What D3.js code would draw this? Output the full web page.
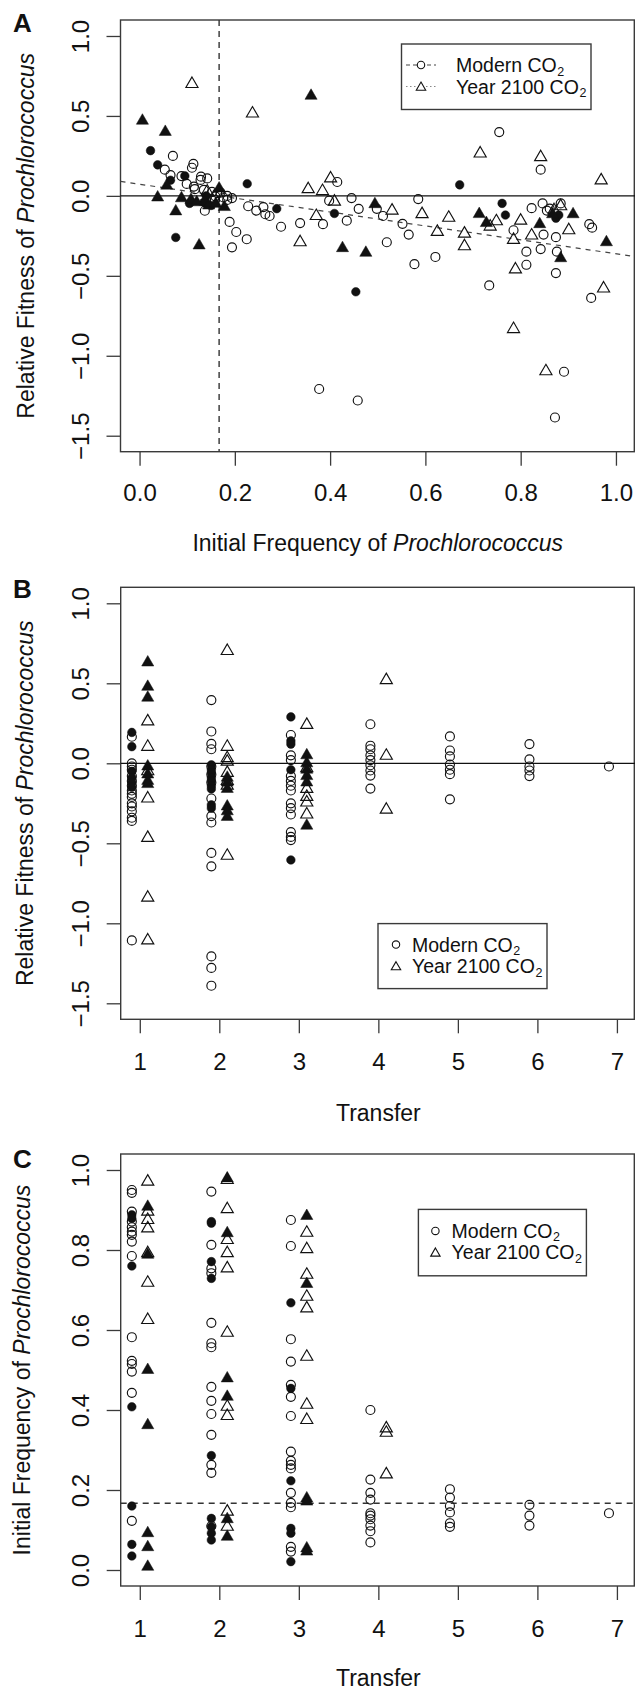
<!DOCTYPE html>
<html><head><meta charset="utf-8">
<script src="https://cdn.jsdelivr.net/npm/d3@7"></script>
<style>html,body{margin:0;padding:0;background:#fff;} svg{display:block;}</style>
</head><body>
<script>
// ---------------- DATA ----------------
// Panel A: [initial frequency, relative fitness]
const aModernOpen = [[0.07,0.25],[0.053,0.164],[0.065,0.13],[0.088,0.124],[0.113,0.2],[0.11,0.176],[0.129,0.12],[0.142,0.109],[0.099,0.075],[0.116,0.042],[0.137,-0.093],[0.159,-0.003],[0.184,-0.025],[0.194,-0.014],[0.189,-0.163],[0.203,-0.226],[0.194,-0.322],[0.225,-0.271],[0.228,-0.065],[0.245,-0.092],[0.26,-0.07],[0.264,-0.115],[0.273,-0.126],[0.297,-0.193],[0.337,-0.17],[0.385,-0.177],[0.415,0.087],[0.398,-0.03],[0.435,-0.155],[0.445,-0.014],[0.46,-0.081],[0.498,-0.081],[0.511,-0.126],[0.519,-0.29],[0.552,-0.175],[0.565,-0.242],[0.585,-0.02],[0.577,-0.427],[0.621,-0.382],[0.734,-0.56],[0.755,0.399],[0.785,-0.215],[0.812,-0.431],[0.812,-0.349],[0.823,-0.077],[0.842,0.164],[0.846,-0.047],[0.848,-0.242],[0.842,-0.333],[0.855,-0.092],[0.874,-0.258],[0.876,-0.349],[0.874,-0.483],[0.884,-0.047],[0.861,-0.08],[0.944,-0.177],[0.95,-0.199],[0.948,-0.638],[0.891,-1.1],[0.872,-1.386],[0.377,-1.208],[0.458,-1.28],[0.128,0.10],[0.114,0.058],[0.135,0.038],[0.163,0.017],[0.152,0.025],[0.184,0.0],[0.158,-0.027],[0.176,-0.01],[0.17,0.02]];
const aModernFilled = [[0.023,0.283],[0.038,0.194],[0.065,0.098],[0.095,0.125],[0.076,-0.26],[0.105,-0.047],[0.226,0.076],[0.288,-0.08],[0.409,-0.11],[0.454,-0.60],[0.672,0.069],[0.761,-0.047],[0.768,-0.12],[0.874,-0.14],[0.88,-0.12],[0.135,-0.04],[0.15,-0.06],[0.14,0.0]];
const aYearOpen = [[0.11,0.70],[0.237,0.515],[0.354,0.042],[0.384,0.03],[0.401,0.109],[0.409,-0.036],[0.371,-0.126],[0.337,-0.29],[0.53,-0.092],[0.593,-0.114],[0.625,-0.225],[0.649,-0.137],[0.682,-0.236],[0.682,-0.315],[0.715,0.265],[0.736,-0.192],[0.749,-0.159],[0.785,-0.275],[0.8,-0.155],[0.789,-0.46],[0.785,-0.833],[0.842,0.242],[0.823,-0.248],[0.853,-1.097],[0.884,-0.065],[0.901,-0.215],[0.969,0.097],[0.974,-0.579],[0.87,-0.09],[0.142,0.027]];
const aYearFilled = [[0.006,0.47],[0.054,0.40],[0.038,-0.01],[0.057,0.064],[0.076,-0.097],[0.088,-0.015],[0.125,-0.31],[0.108,-0.025],[0.137,-0.036],[0.167,0.046],[0.178,-0.07],[0.36,0.626],[0.426,-0.327],[0.475,-0.356],[0.494,-0.052],[0.713,-0.114],[0.728,-0.17],[0.84,-0.177],[0.867,-0.115],[0.884,-0.39],[0.91,-0.115],[0.98,-0.29],[0.145,-0.06],[0.16,-0.05],[0.12,-0.04]];
// Fitted line (Modern): [intercept, slope]
const aFitModern = [0.073, -0.435];
const aThreshold = 0.167;

// Panel B: [transfer, relative fitness]
const bModernOpen = [[1,0.166],[1,0.0],[1,-0.02],[1,-0.04],[1,-0.08],[1,-0.11],[1,-0.14],[1,-0.17],[1,-0.19],[1,-0.21],[1,-0.25],[1,-0.27],[1,-0.30],[1,-0.34],[1,-0.36],[1,-1.107],
 [2,0.395],[2,0.199],[2,0.121],[2,0.088],[2,-0.02],[2,-0.07],[2,-0.12],[2,-0.22],[2,-0.33],[2,-0.37],[2,-0.56],[2,-0.644],[2,-1.207],[2,-1.279],[2,-1.39],
 [3,0.177],[3,0.05],[3,0.02],[3,-0.08],[3,-0.11],[3,-0.14],[3,-0.17],[3,-0.25],[3,-0.28],[3,-0.32],[3,-0.43],[3,-0.46],[3,-0.48],
 [4,0.244],[4,0.11],[4,0.088],[4,0.05],[4,0.02],[4,-0.012],[4,-0.045],[4,-0.077],[4,-0.158],
 [5,0.168],[5,0.08],[5,0.043],[5,-0.008],[5,-0.04],[5,-0.068],[5,-0.225],
 [6,0.12],[6,0.025],[6,-0.02],[6,-0.045],[6,-0.08],
 [7,-0.02]];
const bModernFilled = [[1,0.193],[1,0.104],[1,-0.05],[1,-0.09],[1,-0.12],[1,-0.15],
 [2,-0.01],[2,-0.04],[2,-0.06],[2,-0.09],[2,-0.11],[2,-0.14],[2,-0.16],[2,-0.26],[2,-0.28],
 [3,0.29],[3,0.14],[3,0.12],[3,-0.04],[3,-0.604]];
const bYearOpen = [[1,0.262],[1,0.103],[1,-0.05],[1,-0.22],[1,-0.466],[1,-0.84],[1,-1.107],
 [2,0.702],[2,0.103],[2,0.032],[2,0.01],[2,-0.06],[2,-0.11],[2,-0.14],[2,-0.578],
 [3,0.24],[3,-0.03],[3,-0.16],[3,-0.21],[3,-0.245],[3,-0.32],
 [4,0.52],[4,0.047],[4,-0.29]];
const bYearFilled = [[1,0.63],[1,0.478],[1,0.41],[1,-0.02],[1,-0.07],[1,-0.11],[1,-0.13],
 [2,-0.09],[2,-0.12],[2,-0.16],[2,-0.27],[2,-0.30],[2,-0.335],
 [3,0.05],[3,0.0],[3,-0.04],[3,-0.08],[3,-0.12],[3,-0.39]];

// Panel C: [transfer, initial frequency]
const cModernOpen = [[1,0.95],[1,0.943],[1,0.896],[1,0.871],[1,0.857],[1,0.846],[1,0.838],[1,0.821],[1,0.785],[1,0.582],[1,0.523],[1,0.515],[1,0.496],[1,0.443],[1,0.123],
 [2,0.946],[2,0.813],[2,0.754],[2,0.742],[2,0.618],[2,0.567],[2,0.557],[2,0.458],[2,0.423],[2,0.39],[2,0.338],[2,0.263],[2,0.243],[2,0.11],
 [3,0.875],[3,0.81],[3,0.577],[3,0.521],[3,0.463],[3,0.433],[3,0.385],[3,0.296],[3,0.273],[3,0.263],[3,0.254],[3,0.193],[3,0.168],[3,0.157],[3,0.058],[3,0.046],
 [4,0.4],[4,0.226],[4,0.193],[4,0.176],[4,0.142],[4,0.136],[4,0.127],[4,0.111],[4,0.097],[4,0.069],
 [5,0.202],[5,0.181],[5,0.16],[5,0.144],[5,0.117],[5,0.108],
 [6,0.163],[6,0.136],[6,0.111],
 [7,0.142]];
const cModernFilled = [[1,0.888],[1,0.879],[1,0.76],[1,0.408],[1,0.16],[1,0.064],[1,0.035],
 [2,0.871],[2,0.867],[2,0.771],[2,0.729],[2,0.286],[2,0.129],[2,0.108],[2,0.092],[2,0.075],
 [3,0.668],[3,0.454],[3,0.223],[3,0.104],[3,0.092],[3,0.021]];
const cYearOpen = [[1,0.971],[1,0.896],[1,0.875],[1,0.854],[1,0.792],[1,0.718],[1,0.625],
 [2,0.975],[2,0.902],[2,0.825],[2,0.792],[2,0.754],[2,0.593],[2,0.408],[2,0.385],[2,0.146],[2,0.108],
 [3,0.843],[3,0.802],[3,0.738],[3,0.683],[3,0.654],[3,0.533],[3,0.413],[3,0.375],
 [4,0.354],[4,0.343],[4,0.239]];
const cYearFilled = [[1,0.908],[1,0.788],[1,0.50],[1,0.362],[1,0.092],[1,0.057],[1,0.008],
 [2,0.979],[2,0.842],[2,0.479],[2,0.433],[2,0.127],[2,0.083],
 [3,0.885],[3,0.715],[3,0.179],[3,0.171],[3,0.054],[3,0.046]];

// Ticks and labels
const freqTicks = [0, 0.2, 0.4, 0.6, 0.8, 1.0];
const fitTicks = [-1.5, -1.0, -0.5, 0.0, 0.5, 1.0];
const transferTicks = [1, 2, 3, 4, 5, 6, 7];
const seriesNames = ["Modern CO", "Year 2100 CO"];

// ---------------- DRAWING ----------------
const FONT = "'Liberation Sans', Arial, Helvetica, sans-serif";
const W = 635, H = 1692;
const INK = "#111", BOX = "#3a3a3a";
const fmt1 = v => (v < 0 ? "\u2212" : "") + Math.abs(v).toFixed(1);
const svg = d3.select("body").append("svg").attr("width", W).attr("height", H)
  .style("font-family", FONT);

const R = 4.5;
function triPath(r) {
  const t = 1.5551 * r, xc = 1.3468 * r, yc = 0.7776 * r;
  return `M0,${-t}L${xc},${yc}L${-xc},${yc}Z`;
}
function drawPoints(g, data, fx, fy, kind, filled, r) {
  r = r || R;
  if (kind === "circle") {
    g.append("g").selectAll("circle").data(data).join("circle")
      .attr("cx", fx).attr("cy", fy).attr("r", filled ? r - 0.2 : r)
      .attr("fill", filled ? INK : "none").attr("stroke", INK).attr("stroke-width", filled ? 0.5 : 1.15);
  } else {
    g.append("g").selectAll("path").data(data).join("path")
      .attr("transform", d => `translate(${fx(d)},${fy(d)})`).attr("d", triPath(r))
      .attr("fill", filled ? INK : "none").attr("stroke", INK).attr("stroke-width", filled ? 0.5 : 1.15)
      .attr("stroke-linejoin", "miter");
  }
}

function panel(o) {
  const g = svg.append("g");
  const [x0, x1] = o.x.range();
  const [yb, yt] = o.y.range();
  const gx = g.append("g").attr("transform", `translate(0,${yb})`)
    .call(d3.axisBottom(o.x).tickValues(o.xTicks).tickFormat(o.xFmt).tickSize(14).tickSizeOuter(0));
  gx.attr("font-size", null).attr("font-family", null);
  gx.select(".domain").remove();
  gx.selectAll(".tick line").attr("stroke", BOX).attr("stroke-width", 1.3);
  gx.selectAll(".tick text").attr("y", o.xLabOff).attr("dy", null)
    .attr("font-size", 24).attr("fill", INK).style("font-family", FONT);
  const gy = g.append("g").attr("transform", `translate(${x0},0)`)
    .call(d3.axisLeft(o.y).tickValues(o.yTicks).tickFormat(fmt1).tickSize(14).tickSizeOuter(0));
  gy.attr("font-size", null).attr("font-family", null);
  gy.select(".domain").remove();
  gy.selectAll(".tick line").attr("stroke", BOX).attr("stroke-width", 1.3);
  gy.selectAll(".tick text").attr("transform", "rotate(-90)").attr("x", 0).attr("y", -32)
    .attr("dy", null).attr("text-anchor", "middle")
    .attr("font-size", 24).attr("fill", INK).style("font-family", FONT);
  g.append("rect").attr("x", x0).attr("y", yt).attr("width", Math.min(x1, 634.3) - x0).attr("height", yb - yt)
    .attr("fill", "none").attr("stroke", BOX).attr("stroke-width", 1.4);
  g.append("text").attr("x", 13).attr("y", o.letterY).attr("font-size", 26).attr("font-weight", "bold")
    .attr("fill", INK).text(o.letter);
  const yt2 = g.append("text").attr("transform", `translate(${o.yTitleX},${(yb + yt) / 2}) rotate(-90)`)
    .attr("text-anchor", "middle").attr("font-size", 23).attr("fill", INK);
  yt2.append("tspan").text(o.yTitle[0]);
  yt2.append("tspan").attr("font-style", "italic").text(o.yTitle[1]);
  const xt = g.append("text").attr("x", (x0 + x1) / 2).attr("y", o.xTitleY)
    .attr("text-anchor", "middle").attr("font-size", 23).attr("fill", INK);
  xt.append("tspan").text(o.xTitle[0]);
  if (o.xTitle[1]) xt.append("tspan").attr("font-style", "italic").text(o.xTitle[1]);
  return g;
}

function legend(g, o) {
  g.append("rect").attr("x", o.x).attr("y", o.y).attr("width", o.w).attr("height", o.h)
    .attr("fill", "#fff").attr("stroke", BOX).attr("stroke-width", 1.4);
  seriesNames.forEach((name, i) => {
    const cy = o.y + o.row0 + i * 21.5;
    if (o.lines) {
      g.append("line").attr("x1", o.symX - 15).attr("x2", o.symX + 15).attr("y1", cy).attr("y2", cy)
        .attr("stroke", i === 0 ? "#444" : "#888").attr("stroke-width", 1.1)
        .attr("stroke-dasharray", i === 0 ? "4,3" : "1.5,2.5");
    }
    g.append(i === 0 ? "circle" : "path").call(s => {
      if (i === 0) s.attr("cx", o.symX).attr("cy", cy).attr("r", 3.7);
      else s.attr("transform", `translate(${o.symX},${cy + 1})`).attr("d", triPath(3.5));
    }).attr("fill", o.lines ? "#fff" : "none").attr("stroke", INK).attr("stroke-width", 1.1);
    const t = g.append("text").attr("x", o.textX).attr("y", cy + 7).attr("font-size", 19.5).attr("fill", INK);
    t.text(name);
    const len = t.node().getComputedTextLength();
    g.append("text").attr("x", o.textX + len + 0.5).attr("y", cy + 10.5).attr("font-size", 12.5)
      .attr("fill", INK).text("2");
  });
}

// ---- Panel A ----
const xA = d3.scaleLinear().domain([-0.04, 1.04]).range([120.5, 635]);
const yA = d3.scaleLinear().domain([-1.6, 1.1]).range([451.7, 20]);
const gA = panel({letter: "A", letterY: 32, x: xA, y: yA, xTicks: freqTicks, xFmt: fmt1, yTicks: fitTicks,
  xLabOff: 49, yTitleX: 34, xTitleY: 551, yTitle: ["Relative Fitness of ", "Prochlorococcus"],
  xTitle: ["Initial Frequency of ", "Prochlorococcus"]});
gA.append("line").attr("x1", xA(aThreshold)).attr("x2", xA(aThreshold)).attr("y1", yA(1.1)).attr("y2", yA(-1.6))
  .attr("stroke", "#333").attr("stroke-width", 1.4).attr("stroke-dasharray", "6,5");
gA.append("line").attr("x1", xA(-0.04)).attr("x2", xA(1.04)).attr("y1", yA(0)).attr("y2", yA(0))
  .attr("stroke", INK).attr("stroke-width", 1.3);
gA.append("line").attr("x1", xA(-0.04)).attr("x2", xA(1.04))
  .attr("y1", yA(aFitModern[0] + aFitModern[1] * -0.04)).attr("y2", yA(aFitModern[0] + aFitModern[1] * 1.04))
  .attr("stroke", "#444").attr("stroke-width", 1.2).attr("stroke-dasharray", "5,5");
drawPoints(gA, aModernOpen, d => xA(d[0]), d => yA(d[1]), "circle", false);
drawPoints(gA, aYearOpen, d => xA(d[0]), d => yA(d[1]), "tri", false);
drawPoints(gA, aModernFilled, d => xA(d[0]), d => yA(d[1]), "circle", true);
drawPoints(gA, aYearFilled, d => xA(d[0]), d => yA(d[1]), "tri", true);
legend(gA, {x: 401.5, y: 44, w: 189.5, h: 65.5, row0: 21, symX: 421, textX: 456, lines: true});

// ---- Panel B ----
const OFF = 0.1;
const xB = d3.scaleLinear().domain([0.76, 7.24]).range([120.7, 636]);
const yB = d3.scaleLinear().domain([-1.6, 1.1]).range([1019.3, 587.3]);
const gB = panel({letter: "B", letterY: 598, x: xB, y: yB, xTicks: transferTicks, xFmt: d3.format("d"), yTicks: fitTicks,
  xLabOff: 51, yTitleX: 33, xTitleY: 1121, yTitle: ["Relative Fitness of ", "Prochlorococcus"], xTitle: ["Transfer"]});
gB.append("line").attr("x1", xB(0.76)).attr("x2", xB(7.24)).attr("y1", yB(0)).attr("y2", yB(0))
  .attr("stroke", INK).attr("stroke-width", 1.3);
drawPoints(gB, bModernOpen, d => xB(d[0] - OFF), d => yB(d[1]), "circle", false);
drawPoints(gB, bYearOpen, d => xB(d[0] + OFF), d => yB(d[1]), "tri", false);
drawPoints(gB, bModernFilled, d => xB(d[0] - OFF), d => yB(d[1]), "circle", true);
drawPoints(gB, bYearFilled, d => xB(d[0] + OFF), d => yB(d[1]), "tri", true);
legend(gB, {x: 378, y: 923.6, w: 169, h: 65, row0: 21, symX: 396, textX: 412, lines: false});

// ---- Panel C ----
const xC = d3.scaleLinear().domain([0.76, 7.24]).range([120.7, 636]);
const yC = d3.scaleLinear().domain([-0.04, 1.04]).range([1586, 1154]);
const gC = panel({letter: "C", letterY: 1168, x: xC, y: yC, xTicks: transferTicks, xFmt: d3.format("d"), yTicks: freqTicks,
  xLabOff: 51, yTitleX: 30, xTitleY: 1686, yTitle: ["Initial Frequency of ", "Prochlorococcus"], xTitle: ["Transfer"]});
gC.append("line").attr("x1", xC(0.76)).attr("x2", xC(7.24)).attr("y1", yC(aThreshold)).attr("y2", yC(aThreshold))
  .attr("stroke", "#333").attr("stroke-width", 1.4).attr("stroke-dasharray", "6,5");
drawPoints(gC, cModernOpen, d => xC(d[0] - OFF), d => yC(d[1]), "circle", false);
drawPoints(gC, cYearOpen, d => xC(d[0] + OFF), d => yC(d[1]), "tri", false);
drawPoints(gC, cModernFilled, d => xC(d[0] - OFF), d => yC(d[1]), "circle", true);
drawPoints(gC, cYearFilled, d => xC(d[0] + OFF), d => yC(d[1]), "tri", true);
legend(gC, {x: 418.4, y: 1209.4, w: 168, h: 66.4, row0: 21.5, symX: 435.4, textX: 451.6, lines: false});
</script>
</body></html>
